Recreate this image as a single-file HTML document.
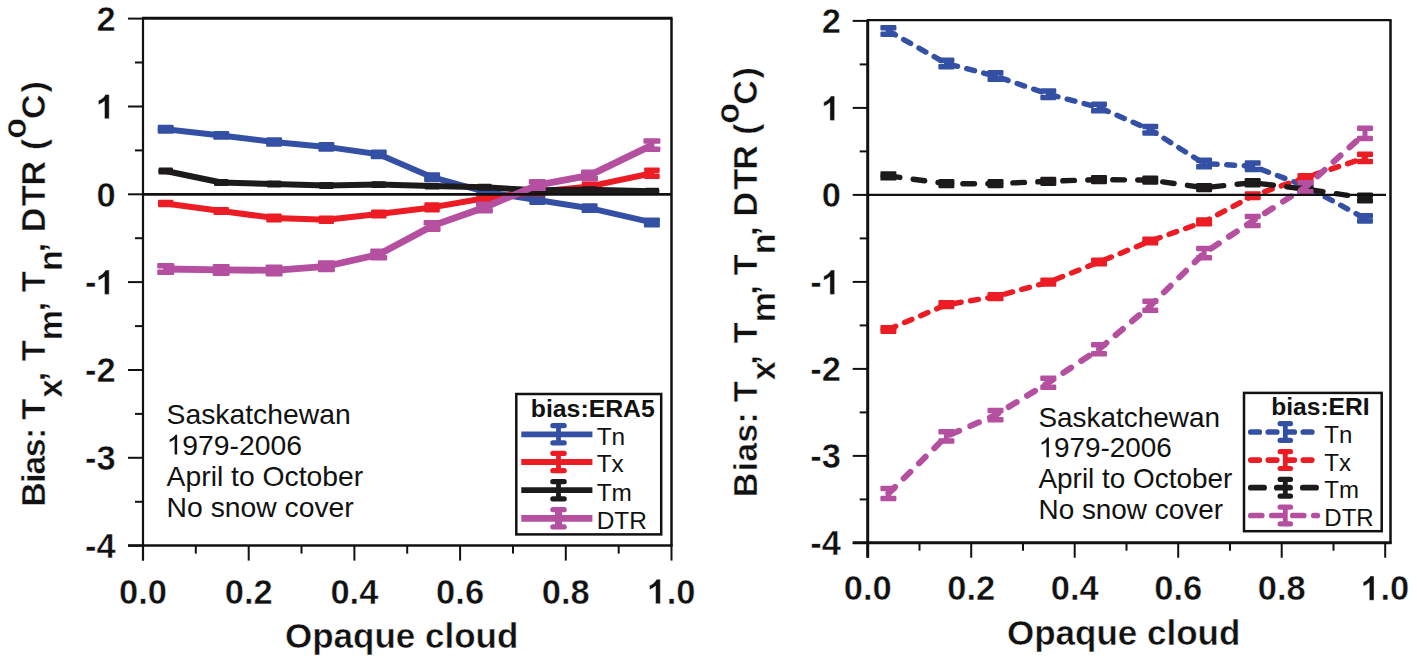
<!DOCTYPE html><html><head><meta charset="utf-8"><style>html,body{margin:0;padding:0;background:#fff;overflow:hidden}svg{display:block}text{font-family:"Liberation Sans", sans-serif;fill:#111}text.e{stroke:#fff;stroke-width:0.45px}</style></head><body>
<svg width="1417" height="665" viewBox="0 0 1417 665">
<defs><path id="one_b" fill="#111" stroke="#fff" stroke-width="27" d="M761 0H480V1045Q326 903 117 835V1085Q227 1121 356 1219Q485 1317 533 1446H761Z"/><path id="one_r" fill="#111" d="M763 0H583V1127Q518 1066 412 1005Q306 944 222 913V1084Q373 1154 486 1253Q599 1352 646 1445H763Z"/></defs>
<rect width="1417" height="665" fill="#fff"/>
<path d="M165.7,129.3 L221.2,135.4 L274.1,142.0 L326.4,146.9 L378.7,154.3 L432.1,177.2 L484.4,191.7 L537.3,200.0 L589.6,208.2 L651.9,222.4" fill="none" stroke="#3450a5" stroke-width="6" stroke-linejoin="round"/>
<rect x="163.2" y="127.5" width="5" height="3.5" fill="#3450a5"/>
<rect x="157.7" y="124.8" width="16" height="5.5" rx="1.2" fill="#3450a5"/>
<rect x="157.7" y="128.3" width="16" height="5.5" rx="1.2" fill="#3450a5"/>
<rect x="218.7" y="133.8" width="5" height="3.2" fill="#3450a5"/>
<rect x="213.2" y="131.1" width="16" height="5.5" rx="1.2" fill="#3450a5"/>
<rect x="213.2" y="134.3" width="16" height="5.5" rx="1.2" fill="#3450a5"/>
<rect x="271.6" y="140.0" width="5" height="4.0" fill="#3450a5"/>
<rect x="266.1" y="137.3" width="16" height="5.5" rx="1.2" fill="#3450a5"/>
<rect x="266.1" y="141.3" width="16" height="5.5" rx="1.2" fill="#3450a5"/>
<rect x="323.9" y="144.7" width="5" height="4.4" fill="#3450a5"/>
<rect x="318.4" y="141.9" width="16" height="5.5" rx="1.2" fill="#3450a5"/>
<rect x="318.4" y="146.3" width="16" height="5.5" rx="1.2" fill="#3450a5"/>
<rect x="376.2" y="152.1" width="5" height="4.4" fill="#3450a5"/>
<rect x="370.7" y="149.4" width="16" height="5.5" rx="1.2" fill="#3450a5"/>
<rect x="370.7" y="153.8" width="16" height="5.5" rx="1.2" fill="#3450a5"/>
<rect x="429.6" y="175.0" width="5" height="4.4" fill="#3450a5"/>
<rect x="424.1" y="172.2" width="16" height="5.5" rx="1.2" fill="#3450a5"/>
<rect x="424.1" y="176.6" width="16" height="5.5" rx="1.2" fill="#3450a5"/>
<rect x="481.9" y="189.5" width="5" height="4.4" fill="#3450a5"/>
<rect x="476.4" y="186.7" width="16" height="5.5" rx="1.2" fill="#3450a5"/>
<rect x="476.4" y="191.1" width="16" height="5.5" rx="1.2" fill="#3450a5"/>
<rect x="534.8" y="197.8" width="5" height="4.4" fill="#3450a5"/>
<rect x="529.3" y="195.1" width="16" height="5.5" rx="1.2" fill="#3450a5"/>
<rect x="529.3" y="199.5" width="16" height="5.5" rx="1.2" fill="#3450a5"/>
<rect x="587.1" y="206.0" width="5" height="4.4" fill="#3450a5"/>
<rect x="581.6" y="203.2" width="16" height="5.5" rx="1.2" fill="#3450a5"/>
<rect x="581.6" y="207.6" width="16" height="5.5" rx="1.2" fill="#3450a5"/>
<rect x="649.4" y="220.2" width="5" height="4.4" fill="#3450a5"/>
<rect x="643.9" y="217.5" width="16" height="5.5" rx="1.2" fill="#3450a5"/>
<rect x="643.9" y="221.9" width="16" height="5.5" rx="1.2" fill="#3450a5"/>
<path d="M165.7,203.5 L221.2,211.0 L274.1,218.0 L326.4,219.8 L378.7,214.0 L432.1,207.4 L484.4,198.3 L537.3,191.7 L589.6,186.4 L651.9,173.2" fill="none" stroke="#ec1c24" stroke-width="6" stroke-linejoin="round"/>
<rect x="163.2" y="202.5" width="5" height="2.0" fill="#ec1c24"/>
<rect x="158.0" y="199.8" width="15.5" height="5.5" rx="1.2" fill="#ec1c24"/>
<rect x="158.0" y="201.8" width="15.5" height="5.5" rx="1.2" fill="#ec1c24"/>
<rect x="218.7" y="209.8" width="5" height="2.4" fill="#ec1c24"/>
<rect x="213.5" y="207.0" width="15.5" height="5.5" rx="1.2" fill="#ec1c24"/>
<rect x="213.5" y="209.4" width="15.5" height="5.5" rx="1.2" fill="#ec1c24"/>
<rect x="271.6" y="216.2" width="5" height="3.6" fill="#ec1c24"/>
<rect x="266.3" y="213.5" width="15.5" height="5.5" rx="1.2" fill="#ec1c24"/>
<rect x="266.3" y="217.1" width="15.5" height="5.5" rx="1.2" fill="#ec1c24"/>
<rect x="323.9" y="218.3" width="5" height="3.0" fill="#ec1c24"/>
<rect x="318.6" y="215.5" width="15.5" height="5.5" rx="1.2" fill="#ec1c24"/>
<rect x="318.6" y="218.5" width="15.5" height="5.5" rx="1.2" fill="#ec1c24"/>
<rect x="376.2" y="212.2" width="5" height="3.6" fill="#ec1c24"/>
<rect x="371.0" y="209.4" width="15.5" height="5.5" rx="1.2" fill="#ec1c24"/>
<rect x="371.0" y="213.0" width="15.5" height="5.5" rx="1.2" fill="#ec1c24"/>
<rect x="429.6" y="205.0" width="5" height="4.8" fill="#ec1c24"/>
<rect x="424.3" y="202.2" width="15.5" height="5.5" rx="1.2" fill="#ec1c24"/>
<rect x="424.3" y="207.0" width="15.5" height="5.5" rx="1.2" fill="#ec1c24"/>
<rect x="481.9" y="196.3" width="5" height="4.0" fill="#ec1c24"/>
<rect x="476.7" y="193.5" width="15.5" height="5.5" rx="1.2" fill="#ec1c24"/>
<rect x="476.7" y="197.5" width="15.5" height="5.5" rx="1.2" fill="#ec1c24"/>
<rect x="534.8" y="189.7" width="5" height="4.0" fill="#ec1c24"/>
<rect x="529.5" y="186.9" width="15.5" height="5.5" rx="1.2" fill="#ec1c24"/>
<rect x="529.5" y="190.9" width="15.5" height="5.5" rx="1.2" fill="#ec1c24"/>
<rect x="587.1" y="184.4" width="5" height="4.0" fill="#ec1c24"/>
<rect x="581.8" y="181.6" width="15.5" height="5.5" rx="1.2" fill="#ec1c24"/>
<rect x="581.8" y="185.6" width="15.5" height="5.5" rx="1.2" fill="#ec1c24"/>
<rect x="649.4" y="170.1" width="5" height="6.2" fill="#ec1c24"/>
<rect x="644.2" y="167.4" width="15.5" height="5.5" rx="1.2" fill="#ec1c24"/>
<rect x="644.2" y="173.6" width="15.5" height="5.5" rx="1.2" fill="#ec1c24"/>
<path d="M165.7,171.0 L221.2,182.5 L274.1,184.0 L326.4,185.5 L378.7,184.6 L432.1,186.1 L484.4,187.3 L537.3,190.3 L589.6,189.7 L651.9,191.2" fill="none" stroke="#1c1a1a" stroke-width="6" stroke-linejoin="round"/>
<rect x="163.2" y="170.3" width="5" height="1.4" fill="#1c1a1a"/>
<rect x="158.5" y="167.6" width="14.5" height="5.5" rx="1.2" fill="#1c1a1a"/>
<rect x="158.5" y="169.0" width="14.5" height="5.5" rx="1.2" fill="#1c1a1a"/>
<rect x="218.7" y="181.8" width="5" height="1.4" fill="#1c1a1a"/>
<rect x="214.0" y="179.1" width="14.5" height="5.5" rx="1.2" fill="#1c1a1a"/>
<rect x="214.0" y="180.5" width="14.5" height="5.5" rx="1.2" fill="#1c1a1a"/>
<rect x="271.6" y="183.3" width="5" height="1.4" fill="#1c1a1a"/>
<rect x="266.8" y="180.6" width="14.5" height="5.5" rx="1.2" fill="#1c1a1a"/>
<rect x="266.8" y="182.0" width="14.5" height="5.5" rx="1.2" fill="#1c1a1a"/>
<rect x="323.9" y="184.8" width="5" height="1.4" fill="#1c1a1a"/>
<rect x="319.1" y="182.1" width="14.5" height="5.5" rx="1.2" fill="#1c1a1a"/>
<rect x="319.1" y="183.5" width="14.5" height="5.5" rx="1.2" fill="#1c1a1a"/>
<rect x="376.2" y="183.9" width="5" height="1.4" fill="#1c1a1a"/>
<rect x="371.5" y="181.2" width="14.5" height="5.5" rx="1.2" fill="#1c1a1a"/>
<rect x="371.5" y="182.6" width="14.5" height="5.5" rx="1.2" fill="#1c1a1a"/>
<rect x="429.6" y="185.4" width="5" height="1.4" fill="#1c1a1a"/>
<rect x="424.8" y="182.7" width="14.5" height="5.5" rx="1.2" fill="#1c1a1a"/>
<rect x="424.8" y="184.1" width="14.5" height="5.5" rx="1.2" fill="#1c1a1a"/>
<rect x="481.9" y="186.6" width="5" height="1.4" fill="#1c1a1a"/>
<rect x="477.2" y="183.8" width="14.5" height="5.5" rx="1.2" fill="#1c1a1a"/>
<rect x="477.2" y="185.2" width="14.5" height="5.5" rx="1.2" fill="#1c1a1a"/>
<rect x="534.8" y="189.6" width="5" height="1.4" fill="#1c1a1a"/>
<rect x="530.0" y="186.9" width="14.5" height="5.5" rx="1.2" fill="#1c1a1a"/>
<rect x="530.0" y="188.3" width="14.5" height="5.5" rx="1.2" fill="#1c1a1a"/>
<rect x="587.1" y="189.0" width="5" height="1.4" fill="#1c1a1a"/>
<rect x="582.3" y="186.3" width="14.5" height="5.5" rx="1.2" fill="#1c1a1a"/>
<rect x="582.3" y="187.7" width="14.5" height="5.5" rx="1.2" fill="#1c1a1a"/>
<rect x="649.4" y="190.5" width="5" height="1.4" fill="#1c1a1a"/>
<rect x="644.7" y="187.8" width="14.5" height="5.5" rx="1.2" fill="#1c1a1a"/>
<rect x="644.7" y="189.2" width="14.5" height="5.5" rx="1.2" fill="#1c1a1a"/>
<path d="M165.7,269.0 L221.2,269.9 L274.1,270.4 L326.4,266.3 L378.7,254.5 L432.1,225.9 L484.4,207.5 L537.3,185.1 L589.6,175.4 L651.9,145.1" fill="none" stroke="#b4509f" stroke-width="6.8" stroke-linejoin="round"/>
<rect x="163.2" y="265.7" width="5" height="6.5" fill="#b4509f"/>
<rect x="157.2" y="263.0" width="17" height="5.5" rx="1.2" fill="#b4509f"/>
<rect x="157.2" y="269.5" width="17" height="5.5" rx="1.2" fill="#b4509f"/>
<rect x="218.7" y="266.6" width="5" height="6.5" fill="#b4509f"/>
<rect x="212.7" y="263.9" width="17" height="5.5" rx="1.2" fill="#b4509f"/>
<rect x="212.7" y="270.4" width="17" height="5.5" rx="1.2" fill="#b4509f"/>
<rect x="271.6" y="267.1" width="5" height="6.5" fill="#b4509f"/>
<rect x="265.6" y="264.4" width="17" height="5.5" rx="1.2" fill="#b4509f"/>
<rect x="265.6" y="270.9" width="17" height="5.5" rx="1.2" fill="#b4509f"/>
<rect x="323.9" y="263.1" width="5" height="6.5" fill="#b4509f"/>
<rect x="317.9" y="260.3" width="17" height="5.5" rx="1.2" fill="#b4509f"/>
<rect x="317.9" y="266.8" width="17" height="5.5" rx="1.2" fill="#b4509f"/>
<rect x="376.2" y="251.2" width="5" height="6.5" fill="#b4509f"/>
<rect x="370.2" y="248.5" width="17" height="5.5" rx="1.2" fill="#b4509f"/>
<rect x="370.2" y="255.0" width="17" height="5.5" rx="1.2" fill="#b4509f"/>
<rect x="429.6" y="222.7" width="5" height="6.5" fill="#b4509f"/>
<rect x="423.6" y="219.9" width="17" height="5.5" rx="1.2" fill="#b4509f"/>
<rect x="423.6" y="226.4" width="17" height="5.5" rx="1.2" fill="#b4509f"/>
<rect x="481.9" y="204.2" width="5" height="6.5" fill="#b4509f"/>
<rect x="475.9" y="201.5" width="17" height="5.5" rx="1.2" fill="#b4509f"/>
<rect x="475.9" y="208.0" width="17" height="5.5" rx="1.2" fill="#b4509f"/>
<rect x="534.8" y="181.8" width="5" height="6.5" fill="#b4509f"/>
<rect x="528.8" y="179.1" width="17" height="5.5" rx="1.2" fill="#b4509f"/>
<rect x="528.8" y="185.6" width="17" height="5.5" rx="1.2" fill="#b4509f"/>
<rect x="587.1" y="172.2" width="5" height="6.5" fill="#b4509f"/>
<rect x="581.1" y="169.4" width="17" height="5.5" rx="1.2" fill="#b4509f"/>
<rect x="581.1" y="175.9" width="17" height="5.5" rx="1.2" fill="#b4509f"/>
<rect x="649.4" y="141.1" width="5" height="8.1" fill="#b4509f"/>
<rect x="643.4" y="138.3" width="17" height="5.5" rx="1.2" fill="#b4509f"/>
<rect x="643.4" y="146.4" width="17" height="5.5" rx="1.2" fill="#b4509f"/>
<line x1="143" y1="194.3" x2="671.5" y2="194.3" stroke="#111" stroke-width="2.8"/>
<line x1="142" y1="18.3" x2="672.5" y2="18.3" stroke="#111" stroke-width="3"/>
<line x1="671.5" y1="18.3" x2="671.5" y2="546.6" stroke="#111" stroke-width="2.5"/>
<line x1="143" y1="18.3" x2="143" y2="560.6" stroke="#111" stroke-width="2.2"/>
<line x1="128" y1="545.6" x2="672.5" y2="545.6" stroke="#111" stroke-width="2.5"/>
<line x1="128" y1="545.7" x2="143" y2="545.7" stroke="#111" stroke-width="2"/>
<line x1="135" y1="501.8" x2="143" y2="501.8" stroke="#111" stroke-width="2"/>
<line x1="128" y1="457.8" x2="143" y2="457.8" stroke="#111" stroke-width="2"/>
<line x1="135" y1="413.9" x2="143" y2="413.9" stroke="#111" stroke-width="2"/>
<line x1="128" y1="370.0" x2="143" y2="370.0" stroke="#111" stroke-width="2"/>
<line x1="135" y1="326.1" x2="143" y2="326.1" stroke="#111" stroke-width="2"/>
<line x1="128" y1="282.1" x2="143" y2="282.1" stroke="#111" stroke-width="2"/>
<line x1="135" y1="238.2" x2="143" y2="238.2" stroke="#111" stroke-width="2"/>
<line x1="128" y1="194.3" x2="143" y2="194.3" stroke="#111" stroke-width="2"/>
<line x1="135" y1="150.4" x2="143" y2="150.4" stroke="#111" stroke-width="2"/>
<line x1="128" y1="106.5" x2="143" y2="106.5" stroke="#111" stroke-width="2"/>
<line x1="135" y1="62.5" x2="143" y2="62.5" stroke="#111" stroke-width="2"/>
<line x1="128" y1="18.6" x2="143" y2="18.6" stroke="#111" stroke-width="2"/>
<line x1="143.0" y1="545.6" x2="143.0" y2="560.6" stroke="#111" stroke-width="2"/>
<line x1="195.8" y1="545.6" x2="195.8" y2="553.6" stroke="#111" stroke-width="2"/>
<line x1="248.7" y1="545.6" x2="248.7" y2="560.6" stroke="#111" stroke-width="2"/>
<line x1="301.5" y1="545.6" x2="301.5" y2="553.6" stroke="#111" stroke-width="2"/>
<line x1="354.4" y1="545.6" x2="354.4" y2="560.6" stroke="#111" stroke-width="2"/>
<line x1="407.2" y1="545.6" x2="407.2" y2="553.6" stroke="#111" stroke-width="2"/>
<line x1="460.1" y1="545.6" x2="460.1" y2="560.6" stroke="#111" stroke-width="2"/>
<line x1="513.0" y1="545.6" x2="513.0" y2="553.6" stroke="#111" stroke-width="2"/>
<line x1="565.8" y1="545.6" x2="565.8" y2="560.6" stroke="#111" stroke-width="2"/>
<line x1="618.7" y1="545.6" x2="618.7" y2="553.6" stroke="#111" stroke-width="2"/>
<line x1="671.5" y1="545.6" x2="671.5" y2="560.6" stroke="#111" stroke-width="2"/>
<text x="84.92" y="558.00" font-weight="bold" class="e" font-size="34.5">-4</text>
<text x="84.92" y="470.15" font-weight="bold" class="e" font-size="34.5">-3</text>
<text x="84.92" y="382.30" font-weight="bold" class="e" font-size="34.5">-2</text>
<text x="84.92" y="294.45" font-weight="bold" class="e" font-size="34.5">-</text>
<use href="#one_b" transform="translate(96.41,294.45) scale(0.01685,-0.01685)"/>
<text x="96.41" y="206.60" font-weight="bold" class="e" font-size="34.5">0</text>
<use href="#one_b" transform="translate(96.41,118.75) scale(0.01685,-0.01685)"/>
<text x="96.41" y="30.90" font-weight="bold" class="e" font-size="34.5">2</text>
<text x="119.02" y="603.70" font-weight="bold" class="e" font-size="34.5">0.0</text>
<text x="224.72" y="603.70" font-weight="bold" class="e" font-size="34.5">0.2</text>
<text x="330.42" y="603.70" font-weight="bold" class="e" font-size="34.5">0.4</text>
<text x="436.12" y="603.70" font-weight="bold" class="e" font-size="34.5">0.6</text>
<text x="541.82" y="603.70" font-weight="bold" class="e" font-size="34.5">0.8</text>
<use href="#one_b" transform="translate(647.52,603.70) scale(0.01685,-0.01685)"/>
<text x="666.71" y="603.70" font-weight="bold" class="e" font-size="34.5">.0</text>
<text class="e" x="285" y="648.3" font-weight="bold" font-size="35">Opaque cloud</text>
<text class="e" transform="rotate(-90)" x="-506.87 -482.87 -474.70 -457.20 -438.97 -419.58 -397.73 -381.31 -361.08 -340.14 -311.31 -291.88 -270.94 -252.31 -232.27 -205.98 -185.47 -149.89 -138.63 -119.09 -92.53" y="44.90 44.90 44.90 44.90 44.90 44.90 61.70 44.90 44.90 61.70 44.90 44.90 61.70 44.90 44.90 44.90 44.90 44.90 26.40 44.90 44.90" font-weight="bold" font-size="34">Bias:Tx,Tm,Tn,DTR(oC)</text>
<text x="166.60" y="423.50" font-size="28.3">Saskatchewan</text>
<use href="#one_r" transform="translate(166.60,454.60) scale(0.01382,-0.01382)"/>
<text x="182.34" y="454.60" font-size="28.3">979-2006</text>
<text x="166.60" y="485.70" font-size="28.3">April to October</text>
<text x="166.60" y="516.80" font-size="28.3">No snow cover</text>
<rect x="516.3" y="394" width="144.9000000000001" height="140.39999999999998" fill="#fff" stroke="#111" stroke-width="2.5"/>
<text x="530.8" y="416.8" font-weight="bold" font-size="24.8">bias:ERA5</text>
<line x1="521.3" y1="434.3" x2="592.4" y2="434.3" stroke="#3450a5" stroke-width="5.7"/>
<rect x="556.1" y="425.7" width="4.8" height="17.2" fill="#3450a5"/>
<rect x="550.25" y="423.09999999999997" width="16.5" height="5.2" rx="2.5" fill="#3450a5"/>
<rect x="550.25" y="440.3" width="16.5" height="5.2" rx="2.5" fill="#3450a5"/>
<text x="596.7" y="444.6" font-size="24.4">Tn</text>
<line x1="521.3" y1="462" x2="592.4" y2="462" stroke="#ec1c24" stroke-width="6"/>
<rect x="556.1" y="453.4" width="4.8" height="17.2" fill="#ec1c24"/>
<rect x="550.25" y="450.79999999999995" width="16.5" height="5.2" rx="2.5" fill="#ec1c24"/>
<rect x="550.25" y="468.0" width="16.5" height="5.2" rx="2.5" fill="#ec1c24"/>
<text x="596.7" y="472.3" font-size="24.4">Tx</text>
<line x1="521.3" y1="490.2" x2="592.4" y2="490.2" stroke="#1c1a1a" stroke-width="5.7"/>
<rect x="556.1" y="481.59999999999997" width="4.8" height="17.2" fill="#1c1a1a"/>
<rect x="550.25" y="478.99999999999994" width="16.5" height="5.2" rx="2.5" fill="#1c1a1a"/>
<rect x="550.25" y="496.2" width="16.5" height="5.2" rx="2.5" fill="#1c1a1a"/>
<text x="596.7" y="500.5" font-size="24.4">Tm</text>
<line x1="521.3" y1="518.3" x2="592.4" y2="518.3" stroke="#b4509f" stroke-width="6.7"/>
<rect x="554.9" y="509.69999999999993" width="7.2" height="17.2" fill="#b4509f"/>
<rect x="550.25" y="507.0999999999999" width="16.5" height="5.2" rx="2.5" fill="#b4509f"/>
<rect x="550.25" y="524.3" width="16.5" height="5.2" rx="2.5" fill="#b4509f"/>
<text x="596.7" y="528.5999999999999" font-size="24.4">DTR</text>
<path d="M888.4,31.0 L946.4,63.5 L995.5,76.1 L1048.3,94.2 L1099.0,107.5 L1150.3,129.7 L1204.1,163.6 L1252.7,166.2 L1305.5,186.2 L1365.0,218.4" fill="none" stroke="#3450a5" stroke-width="5.4" stroke-linejoin="round" stroke-dasharray="8 9.5" stroke-linecap="round"/>
<rect x="885.9" y="27.7" width="5" height="6.5" fill="#3450a5"/>
<rect x="880.4" y="25.0" width="16" height="5.5" rx="1.2" fill="#3450a5"/>
<rect x="880.4" y="31.5" width="16" height="5.5" rx="1.2" fill="#3450a5"/>
<rect x="943.9" y="60.3" width="5" height="6.5" fill="#3450a5"/>
<rect x="938.4" y="57.5" width="16" height="5.5" rx="1.2" fill="#3450a5"/>
<rect x="938.4" y="64.0" width="16" height="5.5" rx="1.2" fill="#3450a5"/>
<rect x="993.0" y="72.8" width="5" height="6.5" fill="#3450a5"/>
<rect x="987.5" y="70.1" width="16" height="5.5" rx="1.2" fill="#3450a5"/>
<rect x="987.5" y="76.6" width="16" height="5.5" rx="1.2" fill="#3450a5"/>
<rect x="1045.8" y="91.0" width="5" height="6.5" fill="#3450a5"/>
<rect x="1040.3" y="88.2" width="16" height="5.5" rx="1.2" fill="#3450a5"/>
<rect x="1040.3" y="94.7" width="16" height="5.5" rx="1.2" fill="#3450a5"/>
<rect x="1096.5" y="104.2" width="5" height="6.5" fill="#3450a5"/>
<rect x="1091.0" y="101.5" width="16" height="5.5" rx="1.2" fill="#3450a5"/>
<rect x="1091.0" y="108.0" width="16" height="5.5" rx="1.2" fill="#3450a5"/>
<rect x="1147.8" y="126.4" width="5" height="6.5" fill="#3450a5"/>
<rect x="1142.3" y="123.7" width="16" height="5.5" rx="1.2" fill="#3450a5"/>
<rect x="1142.3" y="130.2" width="16" height="5.5" rx="1.2" fill="#3450a5"/>
<rect x="1201.6" y="160.3" width="5" height="6.5" fill="#3450a5"/>
<rect x="1196.1" y="157.6" width="16" height="5.5" rx="1.2" fill="#3450a5"/>
<rect x="1196.1" y="164.1" width="16" height="5.5" rx="1.2" fill="#3450a5"/>
<rect x="1250.2" y="162.9" width="5" height="6.5" fill="#3450a5"/>
<rect x="1244.7" y="160.2" width="16" height="5.5" rx="1.2" fill="#3450a5"/>
<rect x="1244.7" y="166.7" width="16" height="5.5" rx="1.2" fill="#3450a5"/>
<rect x="1303.0" y="183.0" width="5" height="6.5" fill="#3450a5"/>
<rect x="1297.5" y="180.2" width="16" height="5.5" rx="1.2" fill="#3450a5"/>
<rect x="1297.5" y="186.7" width="16" height="5.5" rx="1.2" fill="#3450a5"/>
<rect x="1362.5" y="215.8" width="5" height="5.2" fill="#3450a5"/>
<rect x="1357.0" y="213.0" width="16" height="5.5" rx="1.2" fill="#3450a5"/>
<rect x="1357.0" y="218.2" width="16" height="5.5" rx="1.2" fill="#3450a5"/>
<path d="M888.4,329.4 L946.4,304.7 L995.5,296.6 L1048.3,282.2 L1099.0,262.1 L1150.3,241.0 L1204.1,221.9 L1252.7,195.8 L1305.5,177.5 L1365.0,157.9" fill="none" stroke="#ec1c24" stroke-width="5.4" stroke-linejoin="round" stroke-dasharray="8 9.5" stroke-linecap="round"/>
<rect x="885.9" y="327.6" width="5" height="3.6" fill="#ec1c24"/>
<rect x="880.4" y="324.9" width="16" height="5.5" rx="1.2" fill="#ec1c24"/>
<rect x="880.4" y="328.5" width="16" height="5.5" rx="1.2" fill="#ec1c24"/>
<rect x="943.9" y="302.9" width="5" height="3.6" fill="#ec1c24"/>
<rect x="938.4" y="300.1" width="16" height="5.5" rx="1.2" fill="#ec1c24"/>
<rect x="938.4" y="303.7" width="16" height="5.5" rx="1.2" fill="#ec1c24"/>
<rect x="993.0" y="294.8" width="5" height="3.6" fill="#ec1c24"/>
<rect x="987.5" y="292.1" width="16" height="5.5" rx="1.2" fill="#ec1c24"/>
<rect x="987.5" y="295.7" width="16" height="5.5" rx="1.2" fill="#ec1c24"/>
<rect x="1045.8" y="280.4" width="5" height="3.6" fill="#ec1c24"/>
<rect x="1040.3" y="277.6" width="16" height="5.5" rx="1.2" fill="#ec1c24"/>
<rect x="1040.3" y="281.2" width="16" height="5.5" rx="1.2" fill="#ec1c24"/>
<rect x="1096.5" y="260.3" width="5" height="3.6" fill="#ec1c24"/>
<rect x="1091.0" y="257.5" width="16" height="5.5" rx="1.2" fill="#ec1c24"/>
<rect x="1091.0" y="261.1" width="16" height="5.5" rx="1.2" fill="#ec1c24"/>
<rect x="1147.8" y="239.2" width="5" height="3.6" fill="#ec1c24"/>
<rect x="1142.3" y="236.5" width="16" height="5.5" rx="1.2" fill="#ec1c24"/>
<rect x="1142.3" y="240.1" width="16" height="5.5" rx="1.2" fill="#ec1c24"/>
<rect x="1201.6" y="220.1" width="5" height="3.6" fill="#ec1c24"/>
<rect x="1196.1" y="217.3" width="16" height="5.5" rx="1.2" fill="#ec1c24"/>
<rect x="1196.1" y="220.9" width="16" height="5.5" rx="1.2" fill="#ec1c24"/>
<rect x="1250.2" y="194.0" width="5" height="3.6" fill="#ec1c24"/>
<rect x="1244.7" y="191.2" width="16" height="5.5" rx="1.2" fill="#ec1c24"/>
<rect x="1244.7" y="194.8" width="16" height="5.5" rx="1.2" fill="#ec1c24"/>
<rect x="1303.0" y="175.7" width="5" height="3.6" fill="#ec1c24"/>
<rect x="1297.5" y="172.9" width="16" height="5.5" rx="1.2" fill="#ec1c24"/>
<rect x="1297.5" y="176.6" width="16" height="5.5" rx="1.2" fill="#ec1c24"/>
<rect x="1362.5" y="154.3" width="5" height="7.2" fill="#ec1c24"/>
<rect x="1357.0" y="151.6" width="16" height="5.5" rx="1.2" fill="#ec1c24"/>
<rect x="1357.0" y="158.8" width="16" height="5.5" rx="1.2" fill="#ec1c24"/>
<path d="M888.4,175.9 L946.4,183.7 L995.5,183.7 L1048.3,181.3 L1099.0,179.6 L1150.3,180.1 L1204.1,187.7 L1252.7,182.7 L1305.5,189.1 L1365.0,197.9" fill="none" stroke="#1c1a1a" stroke-width="5.4" stroke-linejoin="round" stroke-dasharray="11.6 13.4" stroke-linecap="round"/>
<rect x="885.9" y="174.0" width="5" height="3.8" fill="#1c1a1a"/>
<rect x="880.4" y="171.3" width="16" height="5.5" rx="1.2" fill="#1c1a1a"/>
<rect x="880.4" y="175.1" width="16" height="5.5" rx="1.2" fill="#1c1a1a"/>
<rect x="943.9" y="181.8" width="5" height="3.8" fill="#1c1a1a"/>
<rect x="938.4" y="179.0" width="16" height="5.5" rx="1.2" fill="#1c1a1a"/>
<rect x="938.4" y="182.8" width="16" height="5.5" rx="1.2" fill="#1c1a1a"/>
<rect x="993.0" y="181.8" width="5" height="3.8" fill="#1c1a1a"/>
<rect x="987.5" y="179.0" width="16" height="5.5" rx="1.2" fill="#1c1a1a"/>
<rect x="987.5" y="182.8" width="16" height="5.5" rx="1.2" fill="#1c1a1a"/>
<rect x="1045.8" y="179.4" width="5" height="3.8" fill="#1c1a1a"/>
<rect x="1040.3" y="176.7" width="16" height="5.5" rx="1.2" fill="#1c1a1a"/>
<rect x="1040.3" y="180.5" width="16" height="5.5" rx="1.2" fill="#1c1a1a"/>
<rect x="1096.5" y="177.7" width="5" height="3.8" fill="#1c1a1a"/>
<rect x="1091.0" y="174.9" width="16" height="5.5" rx="1.2" fill="#1c1a1a"/>
<rect x="1091.0" y="178.7" width="16" height="5.5" rx="1.2" fill="#1c1a1a"/>
<rect x="1147.8" y="178.2" width="5" height="3.8" fill="#1c1a1a"/>
<rect x="1142.3" y="175.5" width="16" height="5.5" rx="1.2" fill="#1c1a1a"/>
<rect x="1142.3" y="179.3" width="16" height="5.5" rx="1.2" fill="#1c1a1a"/>
<rect x="1201.6" y="185.8" width="5" height="3.8" fill="#1c1a1a"/>
<rect x="1196.1" y="183.0" width="16" height="5.5" rx="1.2" fill="#1c1a1a"/>
<rect x="1196.1" y="186.8" width="16" height="5.5" rx="1.2" fill="#1c1a1a"/>
<rect x="1250.2" y="180.8" width="5" height="3.8" fill="#1c1a1a"/>
<rect x="1244.7" y="178.1" width="16" height="5.5" rx="1.2" fill="#1c1a1a"/>
<rect x="1244.7" y="181.9" width="16" height="5.5" rx="1.2" fill="#1c1a1a"/>
<rect x="1303.0" y="187.2" width="5" height="3.8" fill="#1c1a1a"/>
<rect x="1297.5" y="184.4" width="16" height="5.5" rx="1.2" fill="#1c1a1a"/>
<rect x="1297.5" y="188.2" width="16" height="5.5" rx="1.2" fill="#1c1a1a"/>
<rect x="1362.5" y="195.1" width="5" height="5.5" fill="#1c1a1a"/>
<rect x="1357.0" y="192.4" width="16" height="5.5" rx="1.2" fill="#1c1a1a"/>
<rect x="1357.0" y="197.9" width="16" height="5.5" rx="1.2" fill="#1c1a1a"/>
<path d="M888.4,493.5 L946.4,436.3 L995.5,415.1 L1048.3,382.7 L1099.0,349.2 L1150.3,305.7 L1204.1,253.1 L1252.7,221.0 L1305.5,187.2 L1365.0,133.4" fill="none" stroke="#b4509f" stroke-width="6.1" stroke-linejoin="round" stroke-dasharray="9.3 12.2" stroke-linecap="round"/>
<rect x="885.9" y="488.5" width="5" height="10.0" fill="#b4509f"/>
<rect x="880.4" y="485.7" width="16" height="5.5" rx="1.2" fill="#b4509f"/>
<rect x="880.4" y="495.7" width="16" height="5.5" rx="1.2" fill="#b4509f"/>
<rect x="943.9" y="431.7" width="5" height="9.2" fill="#b4509f"/>
<rect x="938.4" y="429.0" width="16" height="5.5" rx="1.2" fill="#b4509f"/>
<rect x="938.4" y="438.2" width="16" height="5.5" rx="1.2" fill="#b4509f"/>
<rect x="993.0" y="410.5" width="5" height="9.2" fill="#b4509f"/>
<rect x="987.5" y="407.7" width="16" height="5.5" rx="1.2" fill="#b4509f"/>
<rect x="987.5" y="416.9" width="16" height="5.5" rx="1.2" fill="#b4509f"/>
<rect x="1045.8" y="378.1" width="5" height="9.2" fill="#b4509f"/>
<rect x="1040.3" y="375.4" width="16" height="5.5" rx="1.2" fill="#b4509f"/>
<rect x="1040.3" y="384.6" width="16" height="5.5" rx="1.2" fill="#b4509f"/>
<rect x="1096.5" y="344.6" width="5" height="9.2" fill="#b4509f"/>
<rect x="1091.0" y="341.9" width="16" height="5.5" rx="1.2" fill="#b4509f"/>
<rect x="1091.0" y="351.1" width="16" height="5.5" rx="1.2" fill="#b4509f"/>
<rect x="1147.8" y="301.1" width="5" height="9.2" fill="#b4509f"/>
<rect x="1142.3" y="298.4" width="16" height="5.5" rx="1.2" fill="#b4509f"/>
<rect x="1142.3" y="307.6" width="16" height="5.5" rx="1.2" fill="#b4509f"/>
<rect x="1201.6" y="248.5" width="5" height="9.2" fill="#b4509f"/>
<rect x="1196.1" y="245.8" width="16" height="5.5" rx="1.2" fill="#b4509f"/>
<rect x="1196.1" y="255.0" width="16" height="5.5" rx="1.2" fill="#b4509f"/>
<rect x="1250.2" y="216.4" width="5" height="9.2" fill="#b4509f"/>
<rect x="1244.7" y="213.7" width="16" height="5.5" rx="1.2" fill="#b4509f"/>
<rect x="1244.7" y="222.8" width="16" height="5.5" rx="1.2" fill="#b4509f"/>
<rect x="1303.0" y="182.6" width="5" height="9.2" fill="#b4509f"/>
<rect x="1297.5" y="179.9" width="16" height="5.5" rx="1.2" fill="#b4509f"/>
<rect x="1297.5" y="189.1" width="16" height="5.5" rx="1.2" fill="#b4509f"/>
<rect x="1362.5" y="128.3" width="5" height="10.2" fill="#b4509f"/>
<rect x="1357.0" y="125.5" width="16" height="5.5" rx="1.2" fill="#b4509f"/>
<rect x="1357.0" y="135.7" width="16" height="5.5" rx="1.2" fill="#b4509f"/>
<line x1="867.7" y1="194.9" x2="1386" y2="194.9" stroke="#111" stroke-width="2.2"/>
<line x1="866.7" y1="20.1" x2="1391.5" y2="20.1" stroke="#111" stroke-width="2.2"/>
<line x1="1390.5" y1="20.1" x2="1390.5" y2="543.7" stroke="#111" stroke-width="2.5"/>
<line x1="867.7" y1="20.1" x2="867.7" y2="557.7" stroke="#111" stroke-width="3"/>
<line x1="852.7" y1="542.7" x2="1391.5" y2="542.7" stroke="#111" stroke-width="3"/>
<line x1="852.7" y1="542.9" x2="867.7" y2="542.9" stroke="#111" stroke-width="2"/>
<line x1="859.7" y1="499.4" x2="867.7" y2="499.4" stroke="#111" stroke-width="2"/>
<line x1="852.7" y1="455.9" x2="867.7" y2="455.9" stroke="#111" stroke-width="2"/>
<line x1="859.7" y1="412.4" x2="867.7" y2="412.4" stroke="#111" stroke-width="2"/>
<line x1="852.7" y1="368.9" x2="867.7" y2="368.9" stroke="#111" stroke-width="2"/>
<line x1="859.7" y1="325.4" x2="867.7" y2="325.4" stroke="#111" stroke-width="2"/>
<line x1="852.7" y1="281.9" x2="867.7" y2="281.9" stroke="#111" stroke-width="2"/>
<line x1="859.7" y1="238.4" x2="867.7" y2="238.4" stroke="#111" stroke-width="2"/>
<line x1="852.7" y1="194.9" x2="867.7" y2="194.9" stroke="#111" stroke-width="2"/>
<line x1="859.7" y1="151.4" x2="867.7" y2="151.4" stroke="#111" stroke-width="2"/>
<line x1="852.7" y1="107.9" x2="867.7" y2="107.9" stroke="#111" stroke-width="2"/>
<line x1="859.7" y1="64.4" x2="867.7" y2="64.4" stroke="#111" stroke-width="2"/>
<line x1="852.7" y1="20.9" x2="867.7" y2="20.9" stroke="#111" stroke-width="2"/>
<line x1="867.7" y1="542.7" x2="867.7" y2="557.7" stroke="#111" stroke-width="2"/>
<line x1="919.5" y1="542.7" x2="919.5" y2="550.7" stroke="#111" stroke-width="2"/>
<line x1="971.2" y1="542.7" x2="971.2" y2="557.7" stroke="#111" stroke-width="2"/>
<line x1="1023.0" y1="542.7" x2="1023.0" y2="550.7" stroke="#111" stroke-width="2"/>
<line x1="1074.7" y1="542.7" x2="1074.7" y2="557.7" stroke="#111" stroke-width="2"/>
<line x1="1126.5" y1="542.7" x2="1126.5" y2="550.7" stroke="#111" stroke-width="2"/>
<line x1="1178.2" y1="542.7" x2="1178.2" y2="557.7" stroke="#111" stroke-width="2"/>
<line x1="1230.0" y1="542.7" x2="1230.0" y2="550.7" stroke="#111" stroke-width="2"/>
<line x1="1281.7" y1="542.7" x2="1281.7" y2="557.7" stroke="#111" stroke-width="2"/>
<line x1="1333.5" y1="542.7" x2="1333.5" y2="550.7" stroke="#111" stroke-width="2"/>
<line x1="1385.2" y1="542.7" x2="1385.2" y2="557.7" stroke="#111" stroke-width="2"/>
<text x="810.32" y="555.40" font-weight="bold" class="e" font-size="34.5">-4</text>
<text x="810.32" y="468.40" font-weight="bold" class="e" font-size="34.5">-3</text>
<text x="810.32" y="381.40" font-weight="bold" class="e" font-size="34.5">-2</text>
<text x="810.32" y="294.40" font-weight="bold" class="e" font-size="34.5">-</text>
<use href="#one_b" transform="translate(821.81,294.40) scale(0.01685,-0.01685)"/>
<text x="821.81" y="207.40" font-weight="bold" class="e" font-size="34.5">0</text>
<use href="#one_b" transform="translate(821.81,120.40) scale(0.01685,-0.01685)"/>
<text x="821.81" y="33.40" font-weight="bold" class="e" font-size="34.5">2</text>
<text x="843.72" y="600.30" font-weight="bold" class="e" font-size="34.5">0.0</text>
<text x="947.22" y="600.30" font-weight="bold" class="e" font-size="34.5">0.2</text>
<text x="1050.72" y="600.30" font-weight="bold" class="e" font-size="34.5">0.4</text>
<text x="1154.22" y="600.30" font-weight="bold" class="e" font-size="34.5">0.6</text>
<text x="1257.72" y="600.30" font-weight="bold" class="e" font-size="34.5">0.8</text>
<use href="#one_b" transform="translate(1361.22,600.30) scale(0.01685,-0.01685)"/>
<text x="1380.41" y="600.30" font-weight="bold" class="e" font-size="34.5">.0</text>
<text class="e" x="1007" y="645" font-weight="bold" font-size="35">Opaque cloud</text>
<text class="e" transform="rotate(-90)" x="-497.37 -471.27 -461.80 -442.70 -423.57 -401.88 -380.13 -364.41 -343.28 -322.34 -294.61 -275.28 -254.24 -235.71 -216.57 -189.58 -169.77 -134.79 -123.63 -104.69 -78.43" y="757.10 757.10 757.10 757.10 757.10 757.10 775.00 757.10 757.10 775.00 757.10 757.10 775.00 757.10 757.10 757.10 757.10 757.10 738.70 757.10 757.10" font-weight="bold" font-size="34">Bias:Tx,Tm,Tn,DTR(oC)</text>
<text x="1038.50" y="426.50" font-size="27.9">Saskatchewan</text>
<use href="#one_r" transform="translate(1038.50,457.30) scale(0.01362,-0.01362)"/>
<text x="1054.02" y="457.30" font-size="27.9">979-2006</text>
<text x="1038.50" y="488.10" font-size="27.9">April to October</text>
<text x="1038.50" y="518.90" font-size="27.9">No snow cover</text>
<rect x="1244" y="392.9" width="137.70000000000005" height="138.30000000000007" fill="#fff" stroke="#111" stroke-width="2.5"/>
<text x="1271.2" y="414.5" font-weight="bold" font-size="24.6">bias:ERI</text>
<line x1="1250.8" y1="432" x2="1312.1" y2="432" stroke="#3450a5" stroke-width="5.7" stroke-dasharray="8.5 9" stroke-linecap="round"/>
<rect x="1282.8999999999999" y="423.6" width="4.8" height="16.8" fill="#3450a5"/>
<rect x="1277.55" y="421.0" width="15.5" height="5.2" rx="2.5" fill="#3450a5"/>
<rect x="1277.55" y="437.79999999999995" width="15.5" height="5.2" rx="2.5" fill="#3450a5"/>
<text x="1324.3" y="442.5" font-size="24">Tn</text>
<line x1="1250.8" y1="460.1" x2="1312.1" y2="460.1" stroke="#ec1c24" stroke-width="5.7" stroke-dasharray="8.5 9" stroke-linecap="round"/>
<rect x="1282.8999999999999" y="451.70000000000005" width="4.8" height="16.8" fill="#ec1c24"/>
<rect x="1277.55" y="449.1" width="15.5" height="5.2" rx="2.5" fill="#ec1c24"/>
<rect x="1277.55" y="465.9" width="15.5" height="5.2" rx="2.5" fill="#ec1c24"/>
<text x="1324.3" y="470.6" font-size="24">Tx</text>
<line x1="1250.8" y1="487.7" x2="1316.4" y2="487.7" stroke="#1c1a1a" stroke-width="5.7" stroke-dasharray="13.3 12.7" stroke-linecap="round"/>
<rect x="1282.8999999999999" y="479.3" width="4.8" height="16.8" fill="#1c1a1a"/>
<rect x="1277.55" y="476.7" width="15.5" height="5.2" rx="2.5" fill="#1c1a1a"/>
<rect x="1277.55" y="493.49999999999994" width="15.5" height="5.2" rx="2.5" fill="#1c1a1a"/>
<text x="1324.3" y="498.2" font-size="24">Tm</text>
<line x1="1250.8" y1="515.5" x2="1317.3" y2="515.5" stroke="#b4509f" stroke-width="5.7" stroke-dasharray="11 10" stroke-linecap="round"/>
<rect x="1282.8999999999999" y="507.1" width="4.8" height="16.8" fill="#b4509f"/>
<rect x="1277.55" y="504.5" width="15.5" height="5.2" rx="2.5" fill="#b4509f"/>
<rect x="1277.55" y="521.3" width="15.5" height="5.2" rx="2.5" fill="#b4509f"/>
<text x="1324.3" y="526.0" font-size="24">DTR</text>
</svg></body></html>
